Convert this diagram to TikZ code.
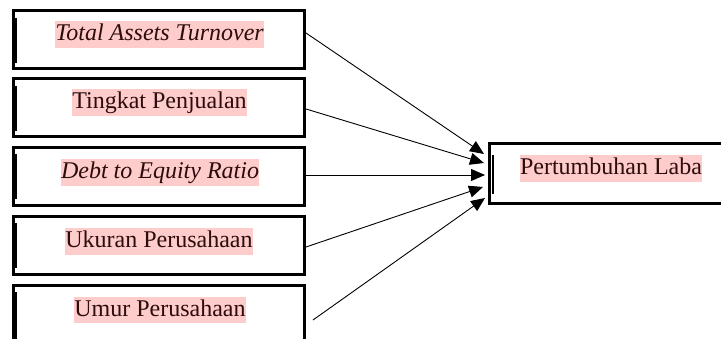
\documentclass[tikz,border=0pt]{standalone}
\usepackage{fontspec}
\setmainfont{Liberation Serif}
\usetikzlibrary{arrows.meta}
\definecolor{hl}{RGB}{255,204,204}
\definecolor{ink}{RGB}{45,12,12}
\begin{document}
\begin{tikzpicture}[x=1pt,y=-1pt,
  box/.style={draw=black,line width=3pt,rectangle,minimum width=291pt,minimum height=58pt,inner sep=0pt},
  txt/.style={fill=hl,text=ink,inner xsep=0pt,inner ysep=0pt,text height=19.5pt,text depth=7pt,font=\fontsize{24}{28}\selectfont},
  arr/.style={line width=0.9pt,-{Triangle[length=14pt,width=12pt]}},
  bar/.style={line width=2pt}]
\useasboundingbox (0,0) rectangle (721,339);
\clip (0,0) rectangle (721,339);
% left boxes
\node[box] (b1) at (158.5,40) {};
\node[box] (b2) at (158.5,108) {};
\node[box] (b3) at (158.5,177) {};
\node[box] (b4) at (158.5,246) {};
\node[box,minimum height=80pt] (b5) at (158.5,326) {};
% right box
\node[box,minimum width=246pt,minimum height=60pt] (r) at (612,174) {};
% texts
\node[txt] (t1) at (159.5,34.5) {\itshape Total Assets Turnover};
\node[txt] (t2) at (159.5,102.5) {Tingkat Penjualan};
\node[txt] (t3) at (160,172.5) {\itshape Debt to Equity Ratio};
\node[txt] (t4) at (159,241.5) {Ukuran Perusahaan};
\node[txt] (t5) at (160,310) {Umur Perusahaan};
\node[txt] (tr) at (611,168.5) {Pertumbuhan Laba};
% inner bars
\draw[bar] (15.5,18) -- (15.5,63);
\draw[bar] (15.5,86) -- (15.5,131);
\draw[bar] (15.5,154) -- (15.5,199);
\draw[bar] (15.5,223) -- (15.5,268);
\draw[bar] (15.5,292) -- (15.5,339);
\draw[bar] (492.5,155) -- (492.5,194);
% connectors
\coordinate (s1) at (306,33);
\coordinate (s2) at (306,109);
\coordinate (s3) at (306,175);
\coordinate (s4) at (306,247);
\coordinate (s5) at (313,320);
\coordinate (e1) at (484,154);
\coordinate (e2) at (484,163);
\coordinate (e3) at (485,175);
\coordinate (e4) at (483,187);
\coordinate (e5) at (485,198);
\draw[arr] (s1) -- (e1);
\draw[arr] (s2) -- (e2);
\draw[arr] (s3) -- (e3);
\draw[arr] (s4) -- (e4);
\draw[arr] (s5) -- (e5);
\end{tikzpicture}
\end{document}
